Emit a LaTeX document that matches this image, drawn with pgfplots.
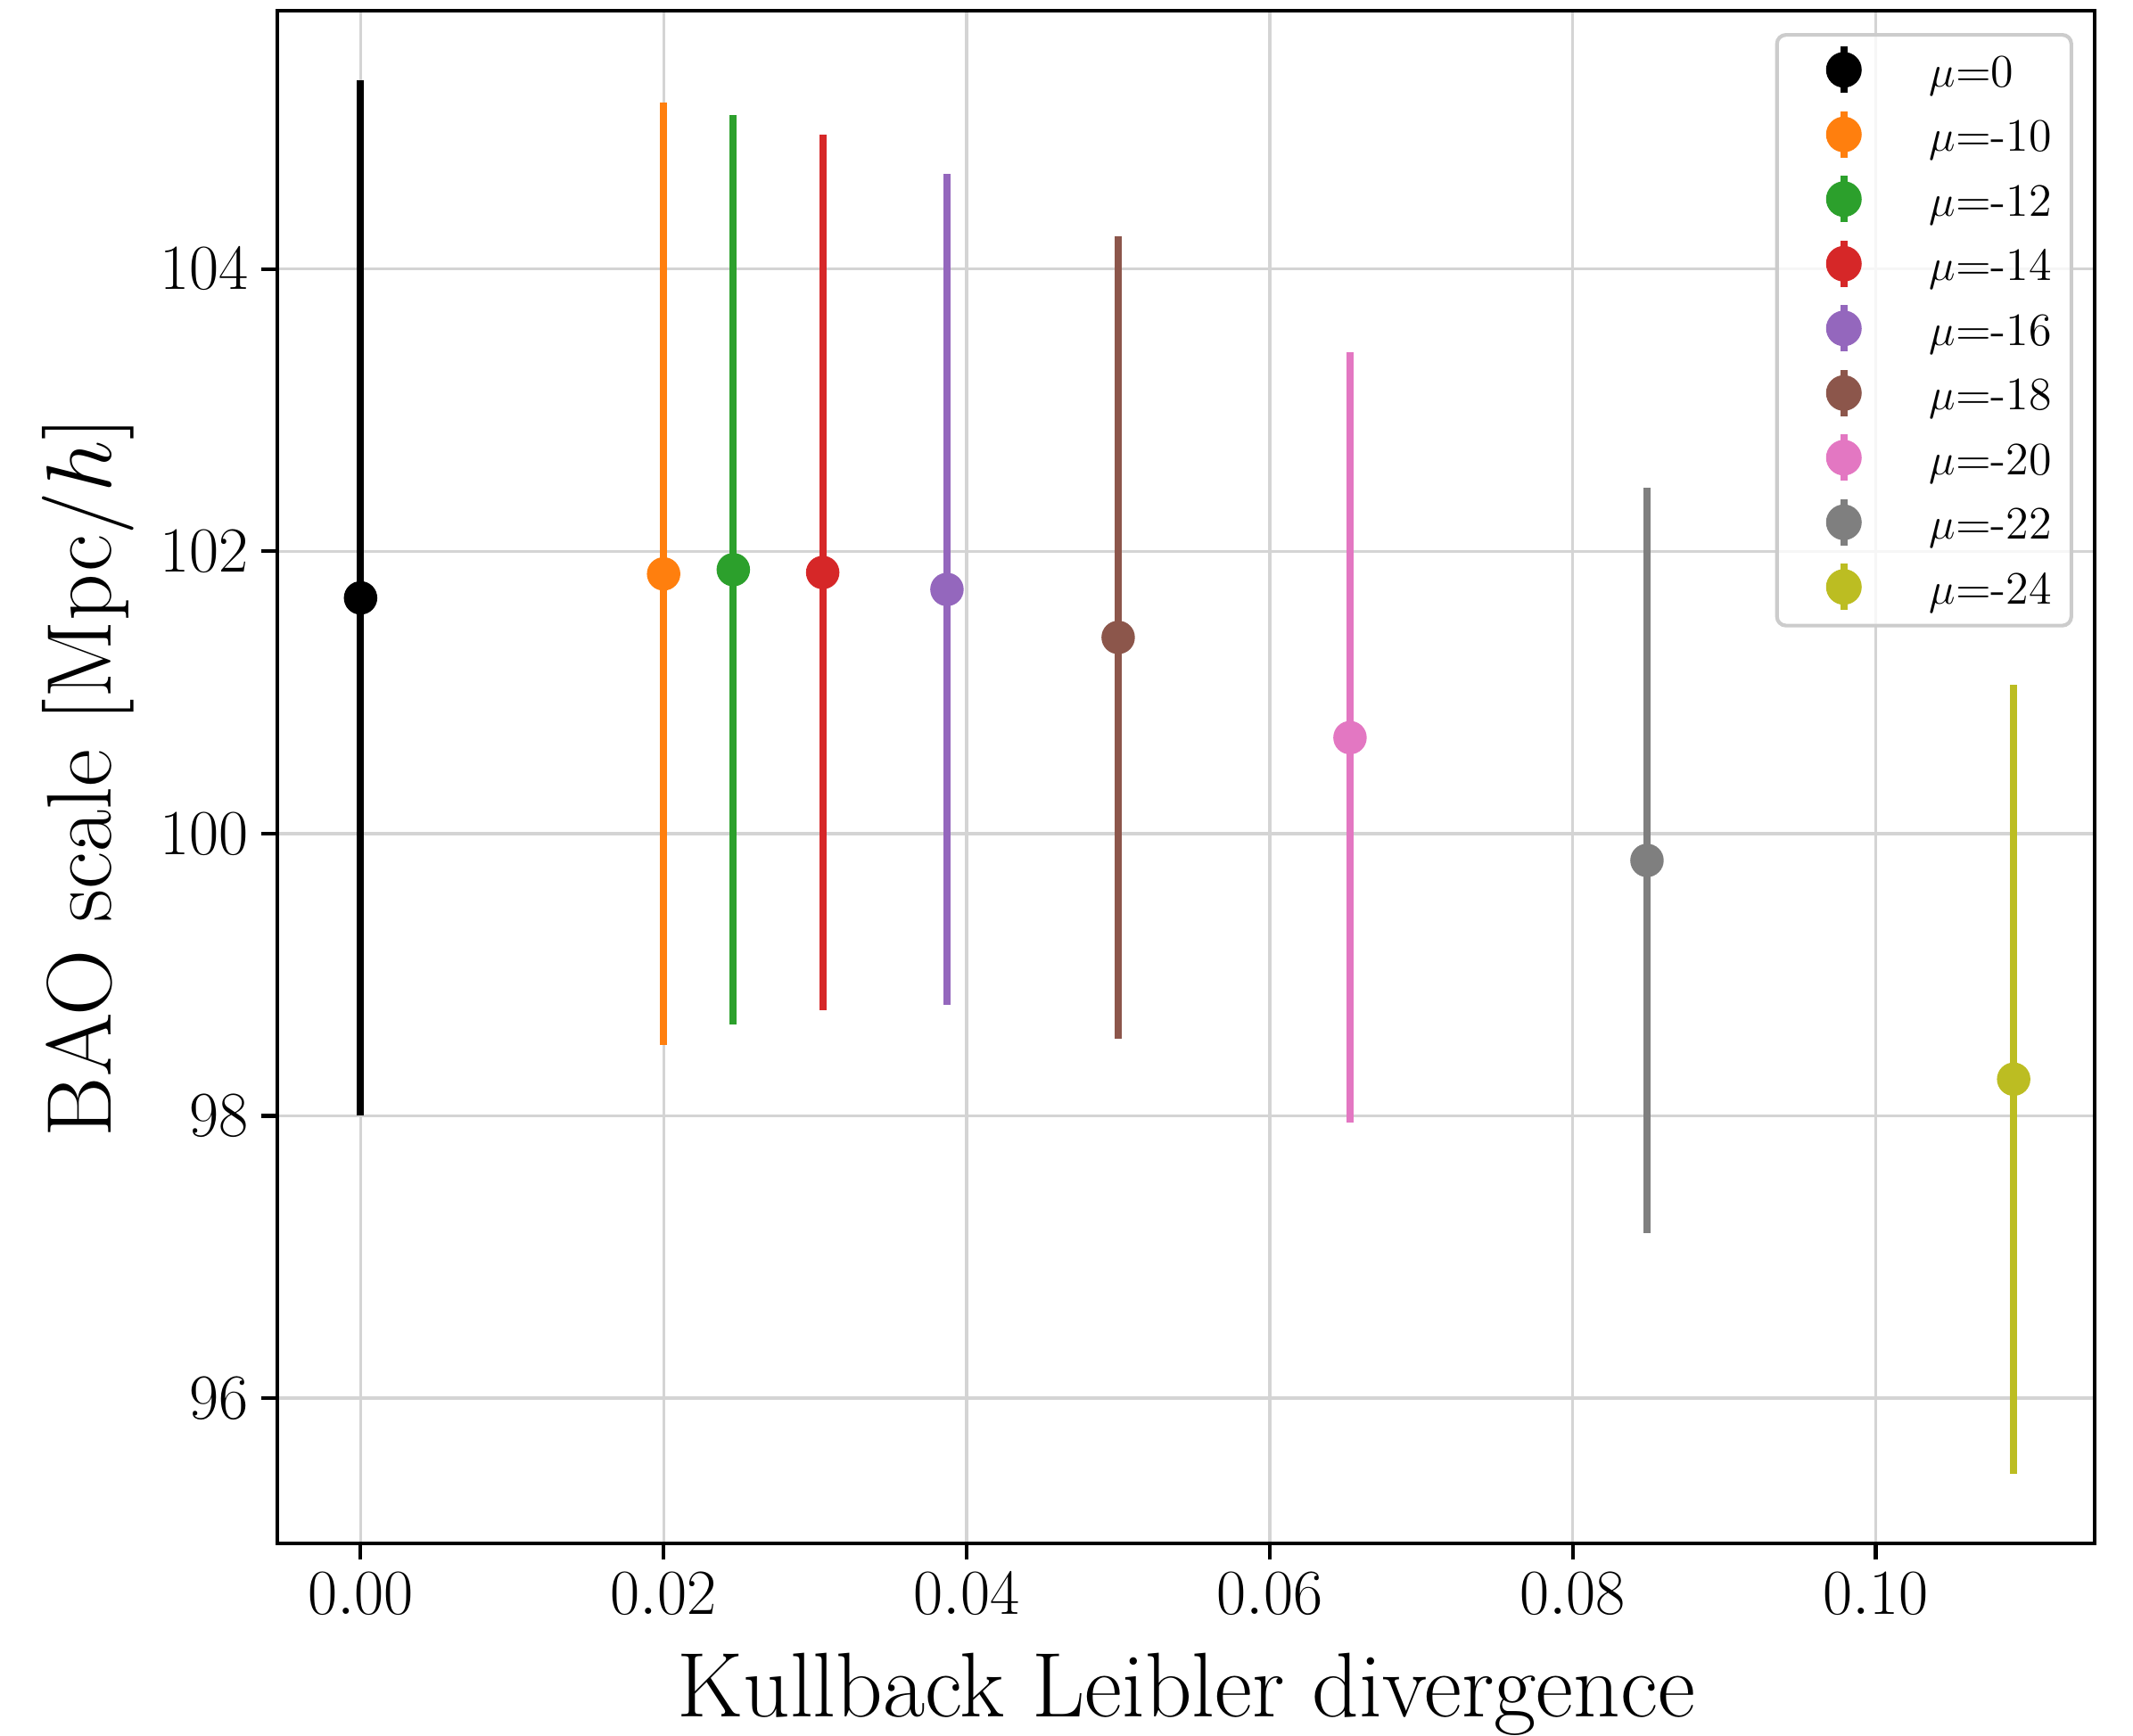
\documentclass[border=0pt]{standalone}
\usepackage{pgfplots}
\pgfplotsset{compat=1.18}
\usetikzlibrary{calc}
\definecolor{c0}{RGB}{0,0,0}
\definecolor{c1}{HTML}{FF7F0E}
\definecolor{c2}{HTML}{2CA02C}
\definecolor{c3}{HTML}{D62728}
\definecolor{c4}{HTML}{9467BD}
\definecolor{c5}{HTML}{8C564B}
\definecolor{c6}{HTML}{E377C2}
\definecolor{c7}{HTML}{7F7F7F}
\definecolor{c8}{HTML}{BCBD22}
\definecolor{gridgray}{RGB}{212,212,212}
\definecolor{legframe}{RGB}{204,204,204}
\pgfplotsset{
  eb/.style={only marks, mark=*, color=#1, mark options={solid, fill=#1, draw=#1}, mark size=4.3pt,
    error bars/.cd, y dir=both, y explicit, error mark=none,
    error bar style={line width=1.9pt, color=#1, solid},
    /pgfplots/legend image code/.code={%
      \draw[line width=1.9pt, draw opacity=1] (0pt,-5.75pt) -- (0pt,6.75pt);
      \fill[fill opacity=1] (0pt,0.5pt) circle (4.3pt);
      \path (-12.2pt,0pt) (4.3pt,0pt);}
  }
}
\begin{document}
\begin{tikzpicture}
\begin{axis}[
  scale only axis, width=489.1pt, height=412.6pt,
  xmin=-0.00548, xmax=0.11445, ymin=94.97, ymax=105.83,
  xtick={0,0.02,0.04,0.06,0.08,0.1},
  ytick={96,98,100,102,104},
  grid=major, grid style={line width=0.8pt, color=gridgray},
  axis line style={line width=1pt},
  tick style={line width=1pt, color=black},
  major tick length=4.4pt, tick align=outside, tick pos=left,
  tick label style={font=\fontsize{18.5}{22}\selectfont},
  xticklabel style={/pgf/number format/.cd, fixed, fixed zerofill, precision=2},
  yticklabel style={/pgf/number format/.cd, fixed, precision=0},
  xlabel={Kullback Leibler divergence},
  ylabel={BAO scale [Mpc/$h$]},
  label style={font=\fontsize{24.7}{29}\selectfont},
  xlabel style={inner sep=0pt, yshift=-6.9pt},
  legend cell align=left,
  legend style={at={(1,1)}, anchor=north east, xshift=-5.8pt, yshift=-6pt,
    font=\fontsize{12.5}{15}\selectfont,
    draw=legframe, line width=1pt, rounded corners=2.4pt, fill=white, fill opacity=0.8, text opacity=1, draw opacity=1,
    inner xsep=5.3pt, inner ysep=1.2pt, row sep=0pt,
    /tikz/column sep=0pt,
    nodes={inner sep=0pt, text height=12.7pt, text depth=4.7pt},
    /tikz/every odd column/.append style={column sep=18.2pt}},
]
\addplot[eb=c0] coordinates {(0,101.67) +- (0,3.665)};
\addlegendentry{$\mu$=0}
\addplot[eb=c1] coordinates {(0.0200,101.84) +- (0,3.34)};
\addlegendentry{$\mu$=-10}
\addplot[eb=c2] coordinates {(0.0246,101.87) +- (0,3.22)};
\addlegendentry{$\mu$=-12}
\addplot[eb=c3] coordinates {(0.0305,101.85) +- (0,3.10)};
\addlegendentry{$\mu$=-14}
\addplot[eb=c4] coordinates {(0.0387,101.73) +- (0,2.945)};
\addlegendentry{$\mu$=-16}
\addplot[eb=c5] coordinates {(0.0500,101.39) +- (0,2.845)};
\addlegendentry{$\mu$=-18}
\addplot[eb=c6] coordinates {(0.0653,100.68) +- (0,2.73)};
\addlegendentry{$\mu$=-20}
\addplot[eb=c7] coordinates {(0.0849,99.81) +- (0,2.64)};
\addlegendentry{$\mu$=-22}
\addplot[eb=c8] coordinates {(0.1091,98.26) +- (0,2.795)};
\addlegendentry{$\mu$=-24}
\end{axis}
\pgfresetboundingbox
\useasboundingbox ($(current axis.south west)+(-74.7pt,-51.8pt)$) rectangle ($(current axis.north east)+(10.3pt,2.9pt)$);
\end{tikzpicture}
\end{document}
